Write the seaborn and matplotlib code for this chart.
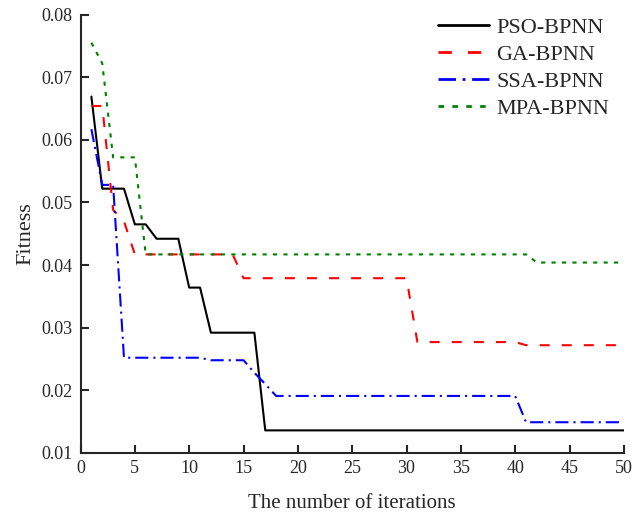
import numpy as np
import pandas as pd
import seaborn as sns
import matplotlib.pyplot as plt

iterations = list(range(1, 51))

pso = ([0.0669, 0.0522, 0.0522, 0.0522, 0.0465, 0.0465, 0.0442, 0.0442, 0.0442,
        0.0364, 0.0364, 0.0292, 0.0292, 0.0292, 0.0292, 0.0292] + [0.0136] * 34)
ga = ([0.0654, 0.0654, 0.0488, 0.0470] + [0.0417] * 10 + [0.0379] * 16
      + [0.0277] * 10 + [0.0272] * 10)
ssa = ([0.0617, 0.0528, 0.0528] + [0.0252] * 8 + [0.0248] * 4
       + [0.0228, 0.0210] + [0.0191] * 23 + [0.0149] * 10)
mpa = [0.0755, 0.0722, 0.0572, 0.0572, 0.0572] + [0.0417] * 36 + [0.0404] * 9

methods = ["PSO-BPNN", "GA-BPNN", "SSA-BPNN", "MPA-BPNN"]
colors = ["black", "red", "blue", "green"]

df = pd.DataFrame({
    "iter": iterations * 4,
    "fitness": pso + ga + ssa + mpa,
    "method": np.repeat(methods, 50),
})

sns.set_style("ticks")
plt.rcParams["font.family"] = ["Liberation Serif", "DejaVu Serif"]
plt.rcParams["xtick.direction"] = "in"
plt.rcParams["ytick.direction"] = "in"

fig = plt.figure(figsize=(6.34, 5.2), dpi=100)
ax = fig.add_axes([0.127, 0.129, 0.857, 0.843])

sns.lineplot(
    data=df, x="iter", y="fitness", hue="method", style="method",
    palette=dict(zip(methods, colors)),
    dashes={"PSO-BPNN": "", "GA-BPNN": (4.8, 5.8),
            "SSA-BPNN": (6.3, 2.4, 1, 2.4), "MPA-BPNN": (2, 3)},
    linewidth=1.5, ax=ax,
)

ax.set_xlim(0, 50)
ax.set_ylim(0.01, 0.08)
ax.set_xticks(range(0, 51, 5))
ax.set_yticks(np.arange(0.01, 0.081, 0.01))
ax.set_yticklabels([f"{v:.2f}" for v in np.arange(0.01, 0.081, 0.01)])
ax.tick_params(labelsize=13, width=1.5, length=6)
ax.tick_params(axis="y", pad=6)
ax.tick_params(axis="x", pad=5)
for s in ["left", "bottom"]:
    ax.spines[s].set_linewidth(1.5)
sns.despine(ax=ax)

ax.set_xlabel("The number of iterations", fontsize=15, labelpad=12)
ax.set_ylabel("Fitness", fontsize=16, labelpad=4)

handles, labels = ax.get_legend_handles_labels()
leg = ax.legend(handles, labels, loc="upper right", frameon=False, fontsize=16,
                handlelength=2.3, handletextpad=0.35, labelspacing=0.3,
                bbox_to_anchor=(1.01, 1.04))
for h in leg.get_lines():
    h.set_linewidth(2)

fig.savefig("out.png", dpi=100)
